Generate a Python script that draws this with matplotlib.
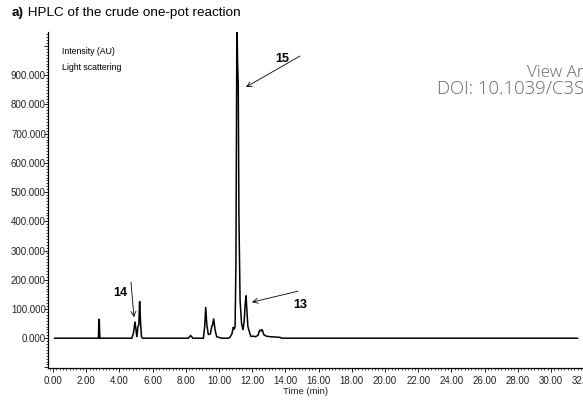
import numpy as np
import matplotlib; matplotlib.use("Agg")
import matplotlib.pyplot as plt
from matplotlib.ticker import MultipleLocator, FuncFormatter

plt.rcParams["font.family"] = ["Liberation Sans", "DejaVu Sans"]

# chromatogram trace: time (min), intensity (x1000 AU)
time_min = [0.10, 2.74, 2.76, 2.79, 2.81, 2.83,
            4.75, 4.85, 4.94, 5.00, 5.05, 5.12, 5.17, 5.22, 5.27, 5.33, 5.40,
            8.15, 8.29, 8.43,
            9.06, 9.14, 9.20, 9.27, 9.36, 9.48, 9.56, 9.61, 9.68, 9.76, 9.86, 10.16,
            10.56, 10.66, 10.78, 10.86, 10.92, 10.97, 11.02, 11.08, 11.12, 11.16,
            11.20, 11.27, 11.36, 11.45, 11.52, 11.57, 11.60, 11.63, 11.68, 11.74, 11.87,
            11.93, 12.07, 12.20, 12.35, 12.45, 12.53, 12.60, 12.70, 12.85, 13.10, 13.67, 13.78,
            31.60]
intensity = [0, 0, 66, 63, 20, 0,
             0, 18, 57, 30, 4, 40, 45, 126, 60, 5, 0,
             0, 9, 0,
             0, 40, 107, 45, 12, 15, 39, 45, 67, 30, 5, 0,
             0, 3, 15, 38, 30, 40, 250, 1100, 940, 870,
             420, 130, 50, 28, 60, 110, 130, 146, 95, 40, 14,
             6, 7, 5, 10, 28, 25, 30, 12, 7, 5, 3, 0,
             0]

y_ticks = np.arange(-100, 1001, 100)
x_ticks = np.arange(0, 33, 2)

fig = plt.figure(figsize=(5.83, 4.0), dpi=100)
ax = fig.add_axes([48/583, 32/400, (600.8-48)/583, 336/400])
ax.plot(time_min, np.array(intensity) * 1000, color="black", lw=1.1, solid_joinstyle="miter")
ax.set_xlim(-0.3, 33.0)
ax.set_ylim(-102000, 1048000)

for s in ["top", "right"]:
    ax.spines[s].set_visible(False)
for s in ["left", "bottom"]:
    ax.spines[s].set_linewidth(0.9)

ax.set_yticks(y_ticks * 1000)
ax.yaxis.set_major_formatter(FuncFormatter(lambda v, p: f"{v/1000:.3f}" if 0 <= v <= 900000 else ""))
ax.yaxis.set_minor_locator(MultipleLocator(10000))
ax.set_xticks(x_ticks)
ax.xaxis.set_major_formatter(FuncFormatter(lambda v, p: f"{v:.2f}"))
ax.xaxis.set_minor_locator(MultipleLocator(0.2))
ax.tick_params(axis="y", which="major", length=3, width=0.6, pad=-1.5, labelsize=7, labelcolor="#222222")
ax.tick_params(axis="y", which="minor", length=1.2, width=0.5)
ax.tick_params(axis="x", which="major", length=3, width=0.6, pad=2.5, labelsize=7, labelcolor="#222222")
ax.tick_params(axis="x", which="minor", length=1.5, width=0.5)

fig.text(306/583, 1 - 392/400, "Time (min)", ha="center", va="center", fontsize=6.8, color="#222222")
fig.text(62/583, 1 - 52/400, "Intensity (AU)", ha="left", va="center", fontsize=6.3)
fig.text(62/583, 1 - 67/400, "Light scattering", ha="left", va="center", fontsize=6.3)

# title
ta = fig.text(12/583, 1 - 13/400, "a)", ha="left", va="center", fontsize=9.7, fontweight="bold")
ax.annotate(" HPLC of the crude one-pot reaction", xy=(1, 0.5), xycoords=ta,
            ha="left", va="center", fontsize=9.7)

# peak labels
def px(x, y):
    return ((x - 53) / 16.6, (338 - y) / 29.2 * 100000)

arrow = dict(arrowstyle="->", color="black", lw=0.6, shrinkA=0, shrinkB=0, mutation_scale=9)
ax.annotate("", xy=px(246, 87), xytext=px(300, 56), arrowprops=arrow, annotation_clip=False)
ax.annotate("", xy=px(134, 317), xytext=px(131, 282), arrowprops=arrow)
ax.annotate("", xy=px(252, 302), xytext=px(298, 291), arrowprops=arrow)
ax.text(*px(282, 59), "15", ha="center", va="center", fontsize=9, fontweight="bold")
ax.text(*px(120, 293), "14", ha="center", va="center", fontsize=9, fontweight="bold")
ax.text(*px(300, 305), "13", ha="center", va="center", fontsize=9, fontweight="bold")

# watermark, clipped at right edge as in the source page
fig.text(527/583, 1 - 73/400, "View Article Online", ha="left", va="center",
         fontsize=12.3, color="#666666", family=["Open Sans", "DejaVu Sans"], fontweight="light")
fig.text(437/583, 1 - 89/400, "DOI: 10.1039/C3SC", ha="left", va="center",
         fontsize=13.3, color="#666666", family=["Open Sans", "DejaVu Sans"], fontweight="light")

fig.savefig("out.png", dpi=100)
